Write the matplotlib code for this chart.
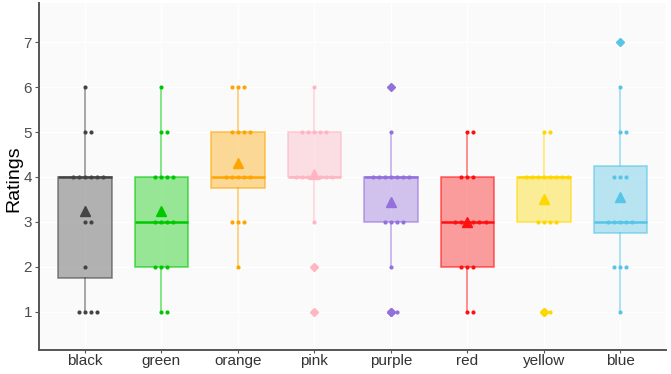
import matplotlib
matplotlib.use("Agg")
import matplotlib.pyplot as plt
import numpy as np

plt.rcParams['font.family'] = ['Liberation Sans', 'DejaVu Sans']

# ratings per colour, read as (value, count) off the dot stacks
groups = ["black", "green", "orange", "pink", "purple", "red", "yellow", "blue"]
counts = {
    "black":  {1: 4, 2: 1, 3: 2, 4: 6, 5: 2, 6: 1},
    "green":  {1: 2, 2: 3, 3: 4, 4: 4, 5: 2, 6: 1},
    "orange": {2: 1, 3: 3, 4: 5, 5: 4, 6: 3},
    "pink":   {1: 1, 2: 1, 3: 1, 4: 7, 5: 5, 6: 1},
    "purple": {1: 2, 2: 1, 3: 4, 4: 7, 5: 1, 6: 1},
    "red":    {1: 2, 2: 3, 3: 6, 4: 3, 5: 2},
    "yellow": {1: 2, 3: 4, 4: 8, 5: 2},
    "blue":   {1: 1, 2: 3, 3: 5, 4: 3, 5: 2, 6: 1, 7: 1},
}
colours = ["#444444", "#00C800", "#FFA500", "#FFB6C1",
           "#9370DB", "#FF1010", "#FFD700", "#56C5E6"]

ratings = [np.repeat(list(counts[g].keys()), list(counts[g].values())) for g in groups]

fig = plt.figure(figsize=(6.71, 3.74), dpi=100)
ax = fig.add_axes([0.058, 0.064, 0.935, 0.928])
ax.set_facecolor("#FAFAFA")
pos = np.arange(1, len(groups) + 1)

bp = ax.boxplot(ratings, positions=pos, widths=0.7, patch_artist=True, whis=1.5,
                showmeans=True, showcaps=False, zorder=2)
for i, c in enumerate(colours):
    bp['boxes'][i].set(facecolor=matplotlib.colors.to_rgba(c, 0.4),
                       edgecolor=matplotlib.colors.to_rgba(c, 0.6), linewidth=1.2)
    bp['medians'][i].set(color=c, linewidth=1.8)
    for w in bp['whiskers'][2 * i:2 * i + 2]:
        w.set(color=matplotlib.colors.to_rgba(c, 0.55), linewidth=1.2)
    bp['means'][i].set(marker='^', markerfacecolor=c, markeredgecolor=c, markersize=7, zorder=5)
    bp['fliers'][i].set(marker='D', markerfacecolor=c, markeredgecolor=c, markersize=4.5, zorder=4)

# dot stacks, centred on whole positions
step = 0.079
for i, g in enumerate(groups):
    for val, n in counts[g].items():
        offs = (np.arange(n) - (n - 1) // 2) * step
        ax.scatter(pos[i] + offs, np.full(n, val), s=9, color=colours[i], zorder=4, linewidths=0)

ax.set_xlim(0.4, 8.6)
ax.set_ylim(0.15, 7.87)
ax.set_xticks(pos)
ax.set_xticklabels(groups, fontsize=11, color="#333333")
ax.set_yticks(range(1, 8))
ax.tick_params(axis='y', labelsize=11, labelcolor="#4D4D4D", length=3, color="#555555", pad=2)
ax.tick_params(axis='x', length=2, color="#555555", pad=1)
ax.set_ylabel("Ratings", fontsize=14)
ax.yaxis.set_label_coords(-0.026, 0.495)
ax.grid(True, color="#FFFFFF", linewidth=1.0, zorder=0)
ax.set_axisbelow(True)
for s in ["top", "right"]:
    ax.spines[s].set_visible(False)
for s in ["left", "bottom"]:
    ax.spines[s].set_color("#555555")
    ax.spines[s].set_linewidth(1.4)

fig.savefig("out.png", dpi=100)
